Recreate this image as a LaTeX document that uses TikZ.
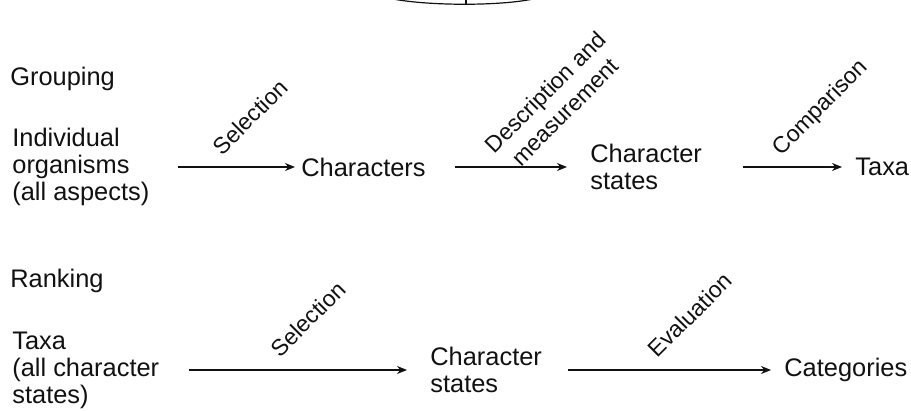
\documentclass[tikz,border=0pt]{standalone}
\usepackage{fontspec}
\setmainfont{Liberation Sans}
\usetikzlibrary{arrows.meta}
\def\wArrow{0.6pt}
\definecolor{cInk}{HTML}{111111}
\tikzset{
  scheme/.style={font=\fontsize{12.7}{13.5}\selectfont, every node/.style={align=left, inner sep=0pt}},
  phase/.style={anchor=west, text=cInk},
  item/.style={anchor=west, text=cInk},
  act/.style={rotate=45, font=\fontsize{11.5}{14}\selectfont, text=cInk, align=center},
  flow/.style={draw=cInk, line width=\wArrow, -{Stealth[length=5pt, width=4pt]}},
}

\begin{document}
\begin{tikzpicture}[scheme, x=0.5pt, y=-0.5pt]
\useasboundingbox (0,0) rectangle (911,411);
% foot of the curve cut off at the top edge
\draw[cInk, line width=\wArrow] (393,-1) .. controls (430,6) and (500,6) .. (533,-1);
\draw[cInk, line width=\wArrow] (466,4.5) -- (466,0);

% grouping row (arrows at y 167)
\node[phase] (grp) at (10, 79)  {Grouping};
\node[item]  (org) at (12, 167) {Individual\\organisms\\(all aspects)};
\node[item]  (chr) at (301, 167) {Characters};
\node[item]  (cst) at (590, 167) {Character\\states};
\node[item]  (tax) at (855, 167) {Taxa};

% ranking row (arrows at y 370)
\node[phase] (rnk) at (10, 281)  {Ranking};
\node[item]  (txa) at (12, 370)  {Taxa\\(all character\\states)};
\node[item]  (rst) at (430, 370) {Character\\states};
\node[item]  (cat) at (784, 370) {Categories};

% arrows
\draw[flow, shorten <=14pt, shorten >=3pt] (org.east |- chr.west) -- (chr.west);
\draw[flow, shorten <=14.5pt, shorten >=11.5pt] (chr.east) -- (cst.west);
\draw[flow, shorten <=20.5pt, shorten >=6.5pt] (cst.east) -- (tax.west);
\draw[flow, shorten <=14.5pt, shorten >=11.5pt] (txa.east) -- (rst.west);
\draw[flow, shorten <=13pt, shorten >=6.5pt] (rst.east) -- (cat.west);

% slanted step labels
\node[act] (sel1) at (250, 117) {Selection};
\node[act] (dsc)  at (555, 102) {Description and\\measurement};
\node[act] (cmp)  at (821, 108) {Comparison};
\node[act] (sel2) at (308, 319) {Selection};
\node[act] (evl)  at (690, 315) {Evaluation};
\end{tikzpicture}
\end{document}
